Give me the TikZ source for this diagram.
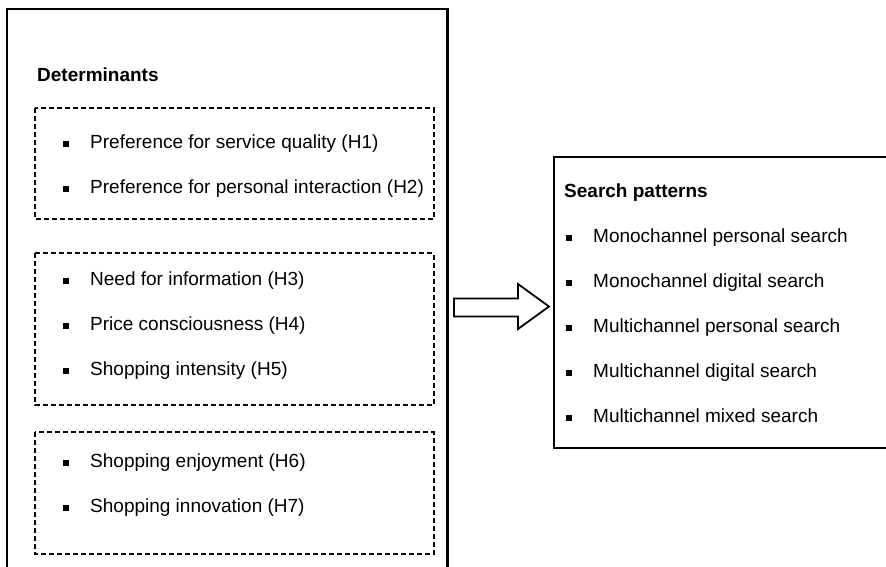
\documentclass[tikz,border=0pt]{standalone}
\usepackage{fontspec}
\setmainfont{Liberation Sans}
\tikzset{
  txt/.style={anchor=base west, inner sep=0pt, font=\fontsize{19}{23}\selectfont},
  headtxt/.style={txt, font=\fontsize{19}{23}\selectfont\bfseries},
  dashbox/.style={line width=2pt, dash pattern=on 5pt off 3pt},
  solidbox/.style={line width=2.2pt},
}
\newcommand{\sqbullet}{\rule[0.8pt]{6pt}{6pt}\hspace{21pt}}

\begin{document}
\begin{tikzpicture}[x=1pt, y=-1pt]
      \useasboundingbox (0,0) rectangle (886,566);
      \clip (0,0) rectangle (886,566);
      % Left frame with the three groups of determinants
      \draw[solidbox] (7,9) rectangle (447.5,600);
      \node[headtxt] (det) at (37,81) {Determinants};
      \draw[dashbox] (35,108) rectangle (433.5,219);
      \node[txt] (h1) at (63,148) {\sqbullet Preference for service quality (H1)};
      \node[txt] (h2) at (63,193) {\sqbullet Preference for personal interaction (H2)};
      \draw[dashbox] (35,253) rectangle (433.5,405);
      \node[txt] (h3) at (63,285) {\sqbullet Need for information (H3)};
      \node[txt] (h4) at (63,330) {\sqbullet Price consciousness (H4)};
      \node[txt] (h5) at (63,375) {\sqbullet Shopping intensity (H5)};
      \draw[dashbox] (35,432) rectangle (433.5,554);
      \node[txt] (h6) at (63,467) {\sqbullet Shopping enjoyment (H6)};
      \node[txt] (h7) at (63,512) {\sqbullet Shopping innovation (H7)};
      % Block arrow
      \draw[line width=1.8pt, line join=miter] (454,298.5) -- (518,298.5) -- (518,284)
            -- (549,306.5) -- (518,329) -- (518,316.5) -- (454,316.5) -- cycle;
      % Right frame with the search patterns
      \draw[solidbox] (554,157) rectangle (900,448);
      \node[headtxt] (sp) at (564,197) {Search patterns};
      \node[txt] (s1) at (566,242) {\sqbullet Monochannel personal search};
      \node[txt] (s2) at (566,287) {\sqbullet Monochannel digital search};
      \node[txt] (s3) at (566,332) {\sqbullet Multichannel personal search};
      \node[txt] (s4) at (566,377) {\sqbullet Multichannel digital search};
      \node[txt] (s5) at (566,422) {\sqbullet Multichannel mixed search};
\end{tikzpicture}
\end{document}
